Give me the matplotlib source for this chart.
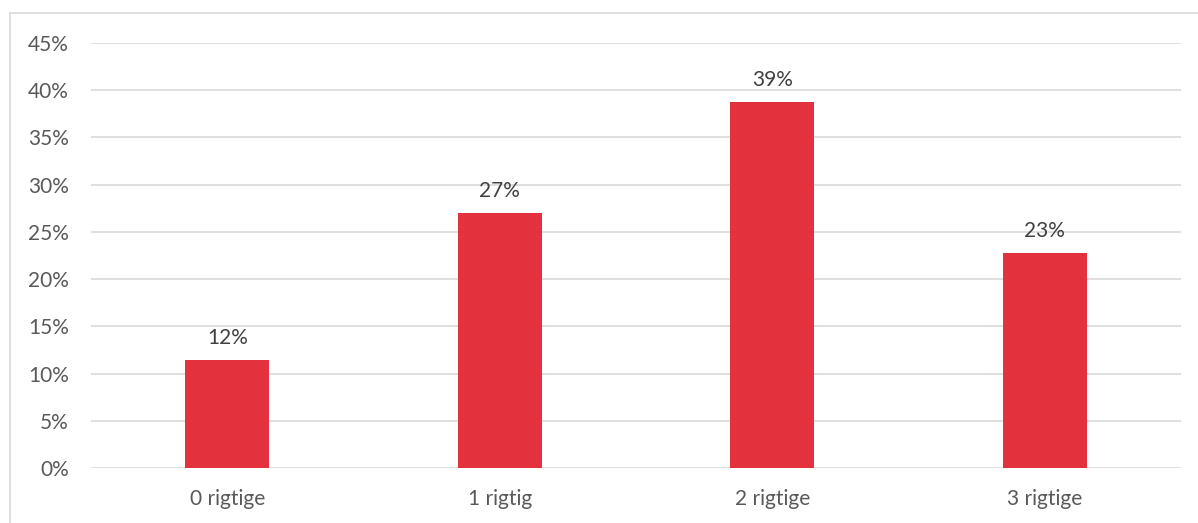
import matplotlib
matplotlib.use("Agg")
import matplotlib.pyplot as plt
from matplotlib.ticker import MultipleLocator, FuncFormatter
from matplotlib.patches import Rectangle

categories = ["0 rigtige", "1 rigtig", "2 rigtige", "3 rigtige"]
values = [0.1145, 0.270, 0.3875, 0.2277]
labels = ["12%", "27%", "39%", "23%"]

plt.rcParams['font.family'] = ['Lato', 'DejaVu Sans']

W, H = 1198, 523
fig = plt.figure(figsize=(W / 100, H / 100), dpi=100)

# light frame around the chart, cut off at right and bottom
fig.patches.append(Rectangle((10 / W, -0.1), 1.2, 1.1 - 13 / H, transform=fig.transFigure,
                             fill=False, edgecolor="#D9D9D9", linewidth=1.2))

ax = fig.add_axes([91 / W, 1 - 468 / H, (1181 - 91) / W, (468 - 43) / H])
x = range(len(categories))
ax.bar(x, values, width=0.31, color="#E3313E", zorder=3)
for i, (v, t) in enumerate(zip(values, labels)):
    ax.text(i, v + 0.013, t, ha="center", va="bottom", fontsize=15, color="#404040")

ax.set_xlim(-0.5, len(categories) - 0.5)
ax.set_ylim(0, 0.45)
ax.yaxis.set_major_locator(MultipleLocator(0.05))
ax.yaxis.set_major_formatter(FuncFormatter(lambda v, p: f"{v * 100:.0f}%"))
ax.set_xticks(list(x))
ax.set_xticklabels(categories)
ax.grid(axis="y", color="#D9D9D9", linewidth=1.2, zorder=0)
ax.tick_params(length=0, labelsize=15, labelcolor="#595959")
ax.tick_params(axis="y", pad=16)
ax.tick_params(axis="x", pad=15)
for s in ax.spines.values():
    s.set_visible(False)

fig.savefig("out.png", dpi=100)
